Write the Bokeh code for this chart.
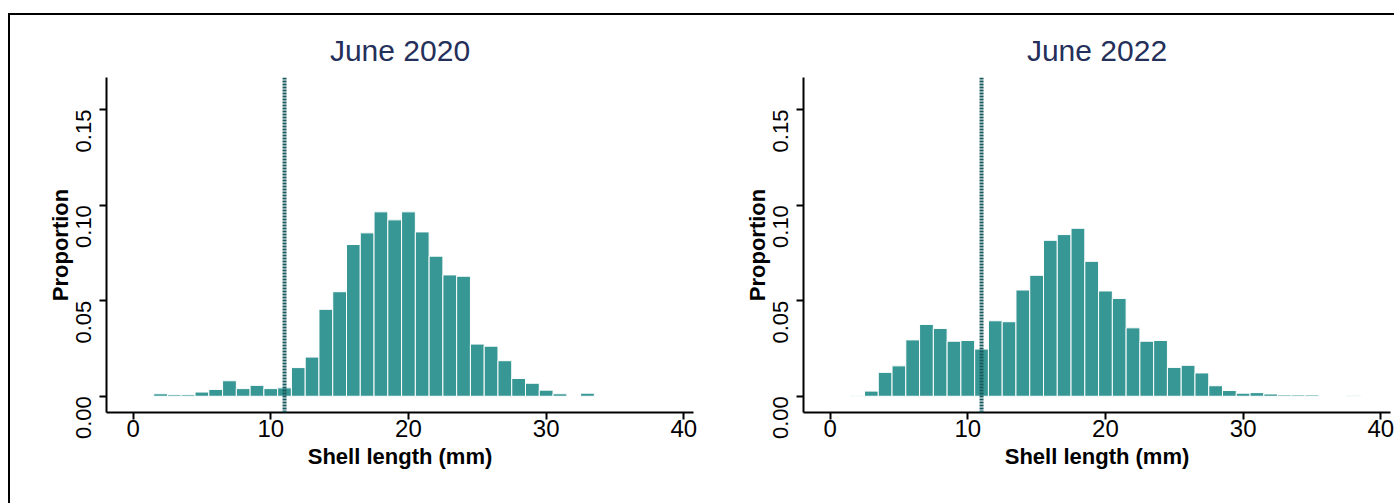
from bokeh.plotting import figure
from bokeh.layouts import row
from bokeh.models import FixedTicker, Span, Range1d
from bokeh.embed import file_html
from bokeh.resources import INLINE

# ---------------- data ----------------
titles = ["June 2020", "June 2022"]

len_2020 = [2, 3, 4, 5, 6, 7, 8, 9, 10, 11, 12, 13, 14, 15, 16, 17, 18, 19, 20,
            21, 22, 23, 24, 25, 26, 27, 28, 29, 30, 31, 33]
prop_2020 = [0.0013, 0.0008, 0.0008, 0.0022, 0.0036, 0.0081, 0.0040, 0.0057, 0.0040, 0.0044,
             0.0150, 0.0205, 0.0455, 0.0547, 0.0794, 0.0855, 0.0965, 0.0923, 0.0965,
             0.0860, 0.0733, 0.0635, 0.0628, 0.0273, 0.0262, 0.0186, 0.0093, 0.0068,
             0.0032, 0.0013, 0.0016]

len_2022 = [2, 3, 4, 5, 6, 7, 8, 9, 10, 11, 12, 13, 14, 15, 16, 17, 18, 19, 20,
            21, 22, 23, 24, 25, 26, 27, 28, 29, 30, 31, 32, 33, 34, 35, 38]
prop_2022 = [0.0003, 0.0027, 0.0125, 0.0159, 0.0295, 0.0376, 0.0355, 0.0288, 0.0292, 0.0247,
             0.0395, 0.0390, 0.0556, 0.0633, 0.0816, 0.0846, 0.0879, 0.0706, 0.0551,
             0.0512, 0.0358, 0.0288, 0.0292, 0.0151, 0.0162, 0.0122, 0.0055, 0.0030,
             0.0016, 0.0019, 0.0012, 0.0007, 0.0007, 0.0007, 0.0002]

x_ticks = [0, 10, 20, 30, 40]
y_ticks = [0.00, 0.05, 0.10, 0.15]
y_tick_labels = ["0.00", "0.05", "0.10", "0.15"]
cutoff_mm = 11
x_label = "Shell length (mm)"
y_label = "Proportion"

# ---------------- style ----------------
FONT = "Liberation Sans"
BAR = "#379794"
TITLE_COLOR = "#25305a"
CUT_COLOR = "#195a5e"
X_START, X_END = -1.93, 40.7
Y_START, Y_END = -0.0085, 0.1668
# rotated y tick labels hang below their tick in the original: pad their end
HANG = "\u00a0" * 7


def style_axis(ax):
    ax.axis_line_width = 2
    ax.axis_line_color = "black"
    ax.major_tick_line_width = 2
    ax.major_tick_line_color = "black"
    ax.major_tick_out = 7
    ax.major_tick_in = 0
    ax.minor_tick_out = 0
    ax.minor_tick_in = 0
    ax.major_label_text_font = FONT
    ax.major_label_text_color = "black"
    ax.axis_label_text_font = FONT
    ax.axis_label_text_font_style = "bold"
    ax.axis_label_text_font_size = "22px"
    ax.axis_label_text_color = "black"


def make_panel(title, lengths, props, width, left_border):
    p = figure(width=width, height=488, output_backend="svg", toolbar_location=None,
               x_range=Range1d(X_START, X_END), y_range=Range1d(Y_START, Y_END),
               min_border_left=left_border, min_border_right=4, min_border_top=62,
               min_border_bottom=91, background_fill_color="white",
               border_fill_color="white", outline_line_color=None)
    p.xgrid.visible = False
    p.ygrid.visible = False

    p.vbar(x=lengths, top=props, bottom=0, width=1.0, fill_color=BAR,
           line_color="white", line_width=1)

    p.add_layout(Span(location=cutoff_mm, dimension="height", line_color=CUT_COLOR,
                      line_width=4, line_dash="2 1"))

    p.title.text = title
    p.title.align = "center"
    p.title.text_font = FONT
    p.title.text_font_size = "30px"
    p.title.text_font_style = "normal"
    p.title.text_color = TITLE_COLOR
    p.title.standoff = 22

    xa = p.xaxis[0]
    style_axis(xa)
    xa.ticker = FixedTicker(ticks=x_ticks)
    xa.major_label_text_font_size = "24px"
    xa.major_label_standoff = 0
    xa.axis_label = x_label
    xa.axis_label_standoff = 4

    ya = p.yaxis[0]
    style_axis(ya)
    ya.ticker = FixedTicker(ticks=y_ticks)
    ya.major_label_orientation = "vertical"
    ya.major_label_overrides = {t: lab + HANG for t, lab in zip(y_ticks, y_tick_labels)}
    ya.major_label_text_font_size = "22px"
    ya.major_label_standoff = 3
    ya.axis_label = y_label
    ya.axis_label_standoff = -4
    return p


p1 = make_panel(titles[0], len_2020, prop_2020, 687, 96)
p2 = make_panel(titles[1], len_2022, prop_2022, 697, 106)
layout = row(p1, p2, margin=(13, 0, 0, 8),
             styles={"border-top": "2px solid black", "border-left": "2px solid black"})

open("out.html", "w").write(file_html(layout, INLINE))
